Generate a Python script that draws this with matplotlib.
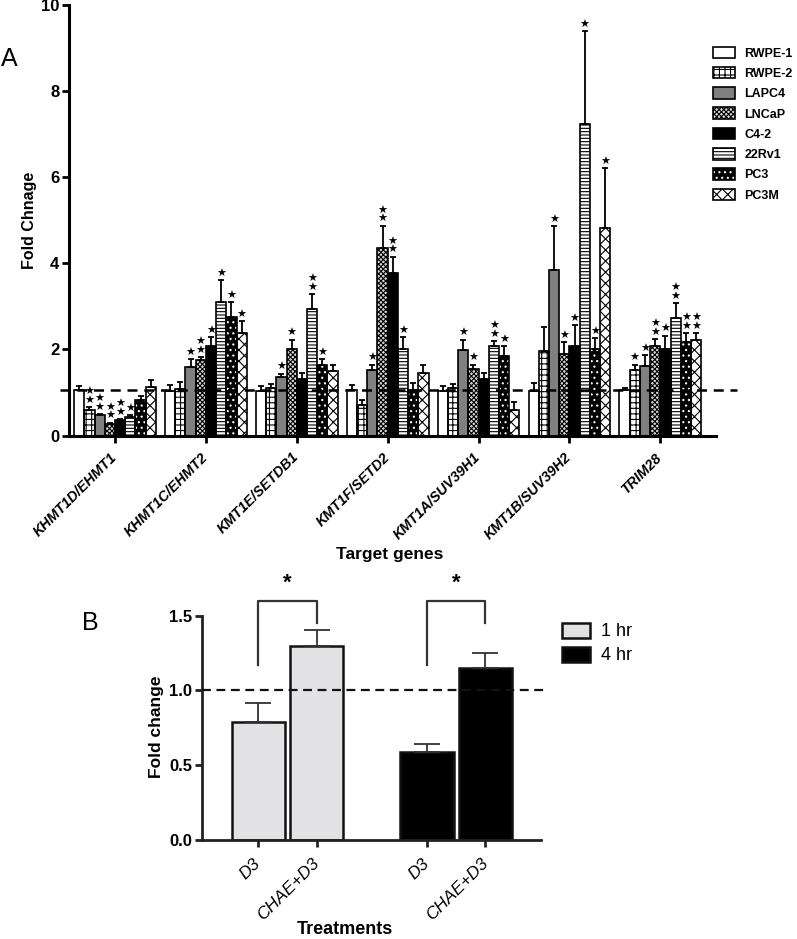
import matplotlib
matplotlib.use('Agg')
import matplotlib.pyplot as plt
from matplotlib.patches import Patch
from matplotlib.legend_handler import HandlerTuple
import numpy as np

plt.rcParams['font.family'] = ['Liberation Sans', 'DejaVu Sans']
plt.rcParams['hatch.linewidth'] = 0.8

# ---------------- Panel A data ----------------
genes = ['KHMT1D/EHMT1', 'KHMT1C/EHMT2', 'KMT1E/SETDB1', 'KMT1F/SETD2',
         'KMT1A/SUV39H1', 'KMT1B/SUV39H2', 'TRIM28']
cell_lines = ['RWPE-1', 'RWPE-2', 'LAPC4', 'LNCaP', 'C4-2', '22Rv1', 'PC3', 'PC3M']

rwpe1 = [1.05, 1.03, 1.03, 1.05, 1.03, 1.03, 1.05]
rwpe2 = [0.60, 1.09, 1.11, 0.72, 1.10, 1.96, 1.52]
lapc4 = [0.47, 1.59, 1.36, 1.53, 1.98, 3.85, 1.62]
lncap = [0.27, 1.76, 2.02, 4.35, 1.55, 1.89, 2.08]
c42 = [0.35, 2.08, 1.31, 3.78, 1.31, 2.08, 2.02]
rv22 = [0.43, 3.10, 2.94, 2.00, 2.07, 7.25, 2.72]
pc3 = [0.83, 2.76, 1.63, 1.06, 1.84, 2.00, 2.17]
pc3m = [1.13, 2.39, 1.49, 1.46, 0.60, 4.82, 2.23]

rwpe1_err = [0.09, 0.14, 0.11, 0.13, 0.11, 0.19, 0.06]
rwpe2_err = [0.06, 0.15, 0.08, 0.10, 0.09, 0.56, 0.13]
lapc4_err = [0.03, 0.18, 0.08, 0.12, 0.25, 1.02, 0.24]
lncap_err = [0.03, 0.07, 0.21, 0.53, 0.10, 0.28, 0.17]
c42_err = [0.03, 0.21, 0.14, 0.38, 0.15, 0.48, 0.30]
rv22_err = [0.05, 0.51, 0.34, 0.29, 0.13, 2.15, 0.35]
pc3_err = [0.08, 0.35, 0.14, 0.16, 0.24, 0.27, 0.21]
pc3m_err = [0.15, 0.27, 0.16, 0.19, 0.19, 1.40, 0.15]

rwpe1_stars = [0, 0, 0, 0, 0, 0, 0]
rwpe2_stars = [2, 0, 0, 0, 0, 0, 1]
lapc4_stars = [2, 1, 1, 1, 1, 1, 1]
lncap_stars = [2, 2, 1, 2, 1, 1, 2]
c42_stars = [2, 1, 0, 2, 0, 1, 1]
rv22_stars = [1, 1, 2, 1, 2, 1, 2]
pc3_stars = [0, 1, 1, 0, 1, 1, 2]
pc3m_stars = [0, 1, 0, 0, 0, 1, 2]

yticks_A = [0, 2, 4, 6, 8, 10]
baseline_A = 1.05

# ---------------- Panel B data ----------------
treatments = ['D3', 'CHAE+D3', 'D3', 'CHAE+D3']
groups_B = ['1 hr', '1 hr', '4 hr', '4 hr']
vals_B = [0.79, 1.298, 0.587, 1.152]
errs_B = [0.127, 0.107, 0.057, 0.097]
yticks_B = [0.0, 0.5, 1.0, 1.5]

vals_A = [rwpe1, rwpe2, lapc4, lncap, c42, rv22, pc3, pc3m]
errs_A = [rwpe1_err, rwpe2_err, lapc4_err, lncap_err, c42_err, rv22_err, pc3_err, pc3m_err]
stars_A = [rwpe1_stars, rwpe2_stars, lapc4_stars, lncap_stars, c42_stars,
           rv22_stars, pc3_stars, pc3m_stars]

# (facecolor, hatch, hatch colour)
styles = [
    ('white', None, 'black'),
    ('white', '+++', 'black'),
    ('#808080', None, 'black'),
    ('#d8d8d8', 'xxxxxxx', 'black'),
    ('black', None, 'black'),
    ('white', '-----', 'black'),
    ('black', '...', 'white'),
    ('white', 'xxx', 'black'),
]


def fill_patch(st):
    fc, hatch, hc = st
    return Patch(facecolor=fc, edgecolor=hc, hatch=hatch, linewidth=0)


W, H = 797, 939
fig = plt.figure(figsize=(W / 100, H / 100), dpi=100)

# ================= Panel A =================
axA = fig.add_axes([69 / W, 1 - 435.5 / H, (716 - 69) / W, (435.5 - 5.3) / H])
x = np.arange(len(genes))
w = 0.1125
for i, cl in enumerate(cell_lines):
    fc, hatch, hc = styles[i]
    pos = x + (i - 3.5) * w
    v = np.array(vals_A[i])
    e = np.array(errs_A[i])
    axA.bar(pos, v, w, facecolor=fc, edgecolor=hc, hatch=hatch, linewidth=0, zorder=2)
    axA.bar(pos, v, w, fill=False, edgecolor='black', linewidth=1.2, zorder=2.1)
    axA.errorbar(pos, v, yerr=[np.zeros_like(e), e], fmt='none', ecolor='black',
                 elinewidth=1.3, capsize=2.2, capthick=1.3, zorder=3)
    for j in range(len(genes)):
        for k in range(stars_A[i][j]):
            axA.annotate('\u2605', xy=(pos[j], v[j] + e[j]), xytext=(0, 4.5 + 6.3 * k),
                         textcoords='offset points', ha='center', va='center',
                         fontsize=8, family='DejaVu Sans', zorder=5)

axA.plot([-0.6, 6.84], [baseline_A, baseline_A], color='black', lw=1.8,
         ls=(0, (4, 2.7)), clip_on=False, zorder=4)

axA.set_xlim(-0.506, 6.613)
axA.set_ylim(0, 10)
axA.set_yticks(yticks_A)
axA.set_yticklabels([str(t) for t in yticks_A], fontweight='bold', fontsize=12)
axA.set_xticks(x)
axA.set_xticklabels(genes, rotation=45, ha='right', va='center', rotation_mode='anchor',
                    fontweight='bold', fontstyle='italic', fontsize=10.3)
for s in ['top', 'right']:
    axA.spines[s].set_visible(False)
for s in ['left', 'bottom']:
    axA.spines[s].set_linewidth(2.2)
axA.tick_params(axis='both', direction='out', length=5, width=2, pad=2)
axA.tick_params(axis='x', pad=9)

handles = [(fill_patch(styles[i]), Patch(fill=False, edgecolor='black', linewidth=1.2))
           for i in range(len(cell_lines))]
fig.legend(handles=handles, labels=cell_lines, loc='upper left',
           bbox_to_anchor=(713 / W, 1 - 46.5 / H), bbox_transform=fig.transFigure,
           frameon=False, borderpad=0, borderaxespad=0,
           handlelength=1.75, handleheight=1.05, labelspacing=0.58,
           handletextpad=0.75, prop=dict(weight='bold', size=9),
           handler_map={tuple: HandlerTuple(ndivide=1)})

fig.text(30 / W, 1 - 220 / H, 'Fold Chnage', rotation=90, ha='center', va='center',
         fontweight='bold', fontsize=11.5)
fig.text(9 / W, 1 - 59 / H, 'A', ha='center', va='center', fontsize=18)
fig.text(390 / W, 1 - 555 / H, 'Target genes', ha='center', va='center',
         fontweight='bold', fontsize=12.5)

# ================= Panel B =================
axB = fig.add_axes([202 / W, 1 - 840 / H, 338.7 / W, 224.3 / H])
posB = [0, 1, 2.89, 3.89]
colB = {'1 hr': '#e2e2e4', '4 hr': 'black'}
for p, v, e, g in zip(posB, vals_B, errs_B, groups_B):
    axB.bar(p, v, 0.91, facecolor=colB[g], edgecolor='#111111', linewidth=1.8, zorder=2)
    axB.errorbar(p, v, yerr=[[0], [e]], fmt='none', ecolor='#333333', elinewidth=1.3,
                 capsize=9.7, capthick=1.3, zorder=3)

axB.plot([-0.964, 4.92], [1.0, 1.0], color='#111111', lw=1.6, ls=(0, (4, 2.5)),
         clip_on=False, zorder=4)

for a, b in [(0, 1), (2, 3)]:
    p0, p1 = posB[a], posB[b]
    axB.plot([p0, p0, p1, p1], [1.17, 1.598, 1.598, 1.45], color='#333333', lw=1.6,
             clip_on=False)
    axB.text((p0 + p1) / 2, 1.717, '*', ha='center', va='center', fontsize=16,
             fontweight='bold', clip_on=False)

axB.set_xlim(-0.964, 4.836)
axB.set_ylim(0, 1.5)
axB.set_yticks(yticks_B)
axB.set_yticklabels(['%.1f' % t for t in yticks_B], fontweight='bold', fontsize=12)
axB.set_xticks(posB)
axB.set_xticklabels(treatments, rotation=45, ha='right', va='center', rotation_mode='anchor',
                    fontstyle='italic', fontsize=12.5)
for s in ['top', 'right']:
    axB.spines[s].set_visible(False)
for s in ['left', 'bottom']:
    axB.spines[s].set_linewidth(2)
    axB.spines[s].set_color('#222222')
axB.tick_params(axis='both', direction='out', length=5, width=2, pad=2, color='#222222')
axB.tick_params(axis='x', pad=10)

handlesB = [Patch(facecolor=colB['1 hr'], edgecolor='#111111', linewidth=1.8, label='1 hr'),
            Patch(facecolor=colB['4 hr'], edgecolor='#111111', linewidth=1.8, label='4 hr')]
fig.legend(handles=handlesB, loc='upper left', bbox_to_anchor=(562 / W, 1 - 622.7 / H),
           bbox_transform=fig.transFigure, frameon=False, borderpad=0, borderaxespad=0,
           handlelength=1.55, handleheight=0.9, labelspacing=0.35,
           handletextpad=0.6, prop=dict(size=13))

fig.text(157 / W, 1 - 727 / H, 'Fold change', rotation=90, ha='center', va='center',
         fontweight='bold', fontsize=12.5)
fig.text(90 / W, 1 - 623 / H, 'B', ha='center', va='center', fontsize=18)
fig.text(345 / W, 1 - 930 / H, 'Treatments', ha='center', va='center',
         fontweight='bold', fontsize=13)

fig.savefig('out.png', dpi=100)
